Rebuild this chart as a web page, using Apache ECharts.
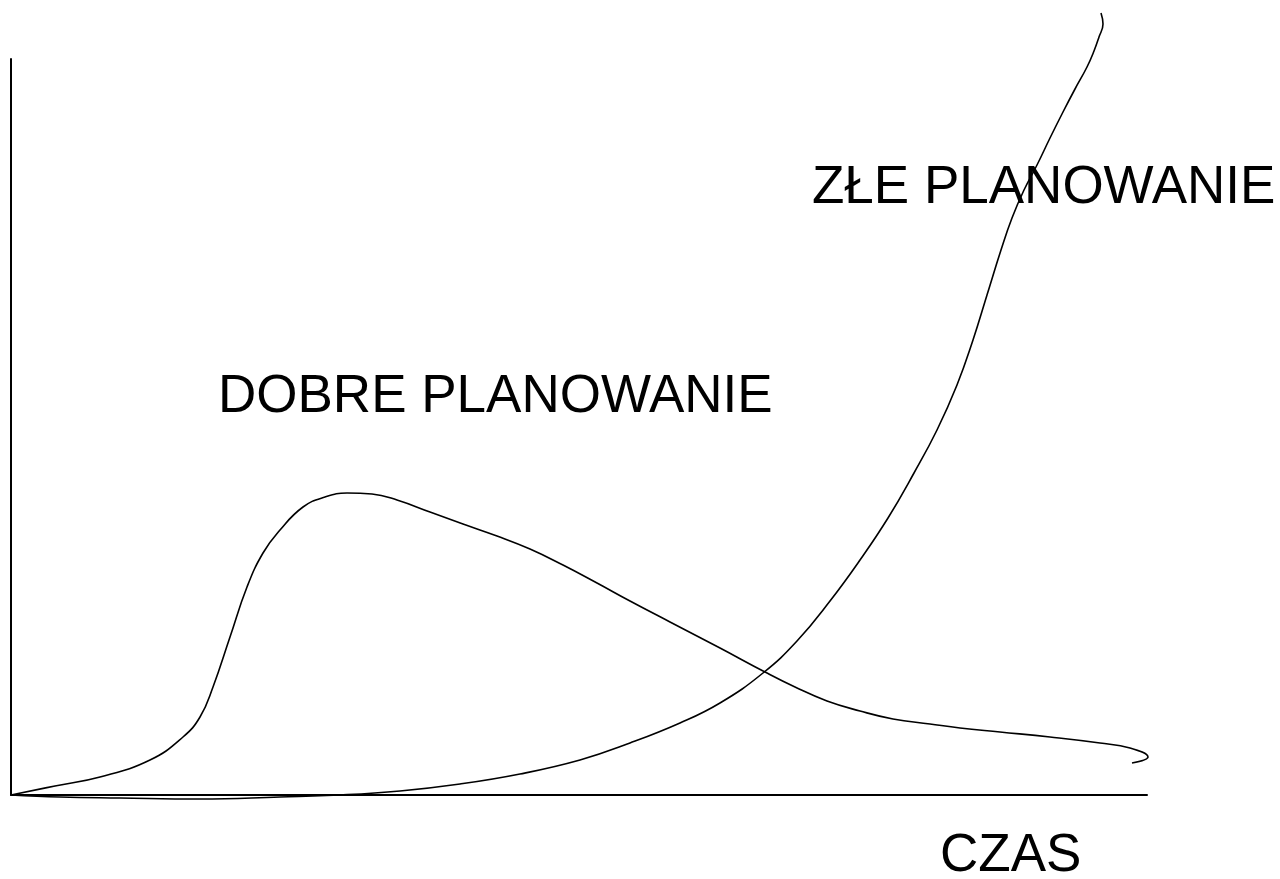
<!DOCTYPE html>
<html>
<head>
<meta charset="utf-8">
<script src="https://cdn.jsdelivr.net/npm/echarts@6/dist/echarts.min.js"></script>
<style>
html,body{margin:0;padding:0;background:#fff;}
#chart{width:1280px;height:879px;}
</style>
</head>
<body>
<div id="chart"></div>
<script>
// Curve "DOBRE PLANOWANIE" (time, value)
const goodTime  = [0, 44, 89, 139, 172, 189, 202, 219, 236, 252, 269, 292, 314, 336, 361, 386, 419, 452, 486, 519, 552, 586, 619, 659, 709, 754, 784, 816, 849, 882, 919, 949, 989, 1039, 1089, 1119, 1137, 1121];
const goodValue = [0, 9, 18, 35, 58, 78, 108, 158, 208, 242, 265, 288, 298, 302, 301, 295, 283, 271, 259, 246, 230, 212, 194, 173, 147, 123, 108, 94, 84, 76, 71, 67, 63, 58, 52, 47, 38, 32];
// Curve "ZŁE PLANOWANIE"
const badTime  = [0, 49, 109, 189, 269, 329, 389, 449, 509, 569, 619, 669, 709, 752, 786, 819, 849, 877, 903, 926, 946, 962, 976, 990, 1001, 1013, 1026, 1039, 1052, 1064, 1076, 1083, 1088, 1092, 1090];
const badValue = [0, -2, -3, -4, -2, 0, 4, 11, 21, 35, 52, 72, 92, 122, 154, 194, 235, 277, 322, 365, 410, 455, 500, 545, 577, 605, 630, 657, 683, 706, 728, 744, 758, 771, 782];
// Text labels
const goodLabel = 'DOBRE PLANOWANIE';
const badLabel = 'ZŁE PLANOWANIE';
const axisLabel = 'CZAS';

const pairs = (xs, ys) => xs.map((x, i) => [x, ys[i]]);

const chart = echarts.init(document.getElementById('chart'), null, {renderer: 'canvas'});
const axisCommon = {
  type: 'value',
  axisLine: {show: true, onZero: false, lineStyle: {color: '#000', width: 2}},
  axisTick: {show: false},
  axisLabel: {show: false},
  splitLine: {show: false}
};
const FONT = '53px "Liberation Sans", Arial, sans-serif';
chart.setOption({
  animation: false,
  backgroundColor: '#fff',
  grid: {left: 11, right: 133, top: 59, bottom: 84, containLabel: false},
  xAxis: Object.assign({}, axisCommon, {min: 0, max: 1136}),
  yAxis: Object.assign({}, axisCommon, {min: 0, max: 736}),
  series: [
    {
      type: 'line', name: goodLabel, data: pairs(goodTime, goodValue),
      smooth: 0.45, showSymbol: false, clip: false,
      lineStyle: {color: '#000', width: 1.6}
    },
    {
      type: 'line', name: badLabel, data: pairs(badTime, badValue),
      smooth: 0.45, showSymbol: false, clip: false,
      lineStyle: {color: '#000', width: 1.6}
    }
  ],
  graphic: [
    {type: 'text', x: 218, y: 397, style: {text: goodLabel, font: FONT, fill: '#000', textAlign: 'left', textVerticalAlign: 'middle'}},
    {type: 'text', x: 812, y: 188, style: {text: badLabel, font: FONT, fill: '#000', textAlign: 'left', textVerticalAlign: 'middle'}},
    {type: 'text', x: 940, y: 856, style: {text: axisLabel, font: FONT, fill: '#000', textAlign: 'left', textVerticalAlign: 'middle'}}
  ]
});
</script>
</body>
</html>
